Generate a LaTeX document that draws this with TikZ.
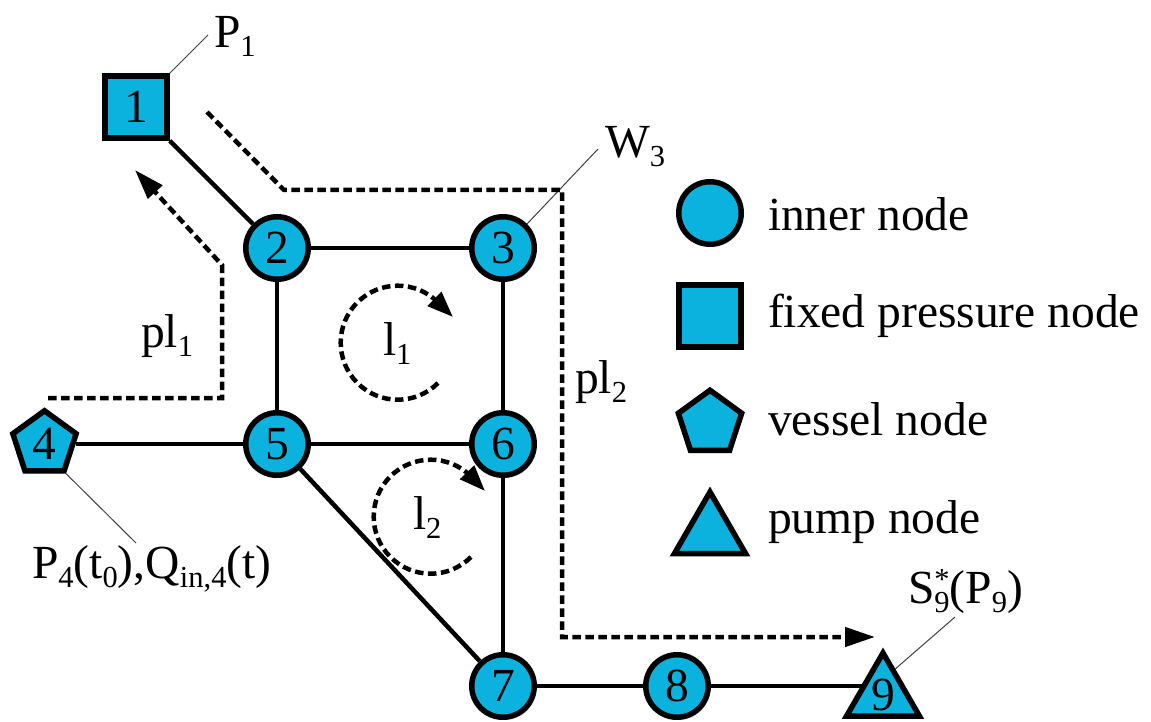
\documentclass[tikz,border=0pt]{standalone}
\usepackage{fontspec}
\setmainfont{Liberation Serif}
\usetikzlibrary{shapes.geometric,shadows,arrows.meta,calc,backgrounds}
\definecolor{nodeblue}{HTML}{0CB2DE}
\newcommand{\lowx}[1]{\raisebox{-9pt}{\fontsize{30.5}{30}\selectfont #1}}
\tikzset{
  x=1pt,y=-1pt,
  basenode/.style={draw=black,fill=nodeblue,line width=5.5pt,inner sep=0pt,miter limit=10,
    drop shadow={shadow xshift=2pt,shadow yshift=-2.5pt,opacity=.3,fill=black},
    font=\fontsize{47.5}{47.5}\selectfont},
  innernode/.style={basenode,circle,minimum size=62.5pt},
  fixednode/.style={basenode,rectangle,minimum size=62pt},
  vesselnode/.style={basenode,regular polygon,regular polygon sides=5,minimum size=66.5pt},
  pumpnode/.style={basenode,regular polygon,regular polygon sides=3,minimum size=82pt},
  digit/.style={label={[font=\fontsize{47.5}{47.5}\selectfont,inner sep=0pt,outer sep=0pt]center:#1}},
  pipe/.style={line width=4.5pt},
  leader/.style={line width=1pt,draw=black!75},
  pathline/.style={line width=4.5pt,dash pattern=on 8.5pt off 4.5pt,miter limit=10},
  headline/.style={line width=4.5pt,-{Triangle[length=26pt,width=19pt]}},
  arrowed/.style={pathline,-{Triangle[length=30pt,width=19pt]}},
  caption/.style={anchor=base west,inner sep=0pt,outer sep=0pt,font=\fontsize{47.5}{47.5}\selectfont},
}
\begin{document}
\begin{tikzpicture}
\useasboundingbox (0,0) rectangle (1151,722);
% network nodes
\node[fixednode]  (n1) at (136,107) {1};
\node[innernode]  (n2) at (277,248) {2};
\node[innernode]  (n3) at (503,248) {3};
\node[vesselnode,digit=4] (n4) at (44.5,444) {};
\node[innernode]  (n5) at (277,444) {5};
\node[innernode]  (n6) at (503,444) {6};
\node[innernode]  (n7) at (503,686) {7};
\node[innernode]  (n8) at (677,686) {8};
\node[pumpnode,digit=9,minimum size=84pt] (n9) at (883,695) {};
% legend symbols
\node[innernode]  (legI) at (710,213) {};
\node[fixednode]  (legF) at (710,316) {};
\node[vesselnode] (legV) at (710,423.5) {};
\node[pumpnode]   (legP) at (710,533) {};
% legend text
\node[caption] (txtI) at (768,230) {inner node};
\node[caption] (txtF) at (768,327) {fixed pressure node};
\node[caption] (txtV) at (768,435) {vessel node};
\node[caption] (txtP) at (768,533) {pump node};
% labels
\node[caption] (lbP)  at (214,48)  {P\lowx{1}};
\node[caption] (lbW)  at (605,158) {W\lowx{3}};
\node[caption] (lbPL1) at (141,347) {pl\lowx{1}};
\node[caption] (lbPL2) at (575,393) {pl\lowx{2}};
\node[caption] (lbL1) at (383,355) {l\lowx{1}};
\node[caption] (lbL2) at (413,529) {l\lowx{2}};
\node[caption] (lbQ)  at (32,578)  {P\lowx{4}(t\lowx{0}),Q\lowx{in,4}(t)};
\node[caption] (lbS)  at (908,603) {S\rlap{\lowx{9}}\raisebox{14pt}{\fontsize{30.5}{30}\selectfont *}(P\lowx{9})};
% free ends
\coordinate (endP) at (208,35);
\coordinate (endW) at (598,149);
\coordinate (endQ) at (136,543);
\coordinate (endS) at (955,617);
\coordinate (a1) at (207,112);
\coordinate (a2) at (284,190);
\coordinate (a3) at (562,190);
\coordinate (a4) at (562,637);
\coordinate (a5) at (875,637);
\coordinate (b1) at (48,398);
\coordinate (b2) at (222,398);
\coordinate (b3) at (222,265);
\coordinate (b4) at (135,170);
\coordinate (c1) at (438,383);
\coordinate (c2) at (471,557);
\coordinate (t1) at (453,317);
\coordinate (t2) at (485,491);
\begin{pgfonlayer}{background}
\draw[pipe] (n1.south east) -- (n2);
\draw[pipe] (n2) -- (n3);
\draw[pipe] (n2) -- (n5);
\draw[pipe] (n3) -- (n6);
\draw[pipe] (n4) -- (n5);
\draw[pipe] (n5) -- (n6);
\draw[pipe] (n6) -- (n7);
\draw[pipe] (n5) -- (n7);
\draw[pipe] (n7) -- (n8);
\draw[pipe] (n8) -- (n8 -| n9);
\draw[leader] (n1.north east) -- (endP);
\draw[leader] (n3.45) -- (endW);
\draw[leader] (n4.corner 4) -- (endQ);
\draw[leader] ($(n9.corner 1)!.3!(n9.corner 3)$) -- (endS);
\end{pgfonlayer}
% pressure paths
\draw[arrowed] (a1) -- (a2) -- (a3) -- (a4) -- (a5);
\draw[arrowed] (b1) -- (b2) -- (b3) -- (b4);
% loops
\draw[pathline] (c1) arc[start angle=-45,end angle=-315,radius=57pt] coordinate (e1);
\draw[headline] (e1) -- (t1);
\draw[pathline] (c2) arc[start angle=-45,end angle=-315,radius=57pt] coordinate (e2);
\draw[headline] (e2) -- (t2);
\end{tikzpicture}
\end{document}
